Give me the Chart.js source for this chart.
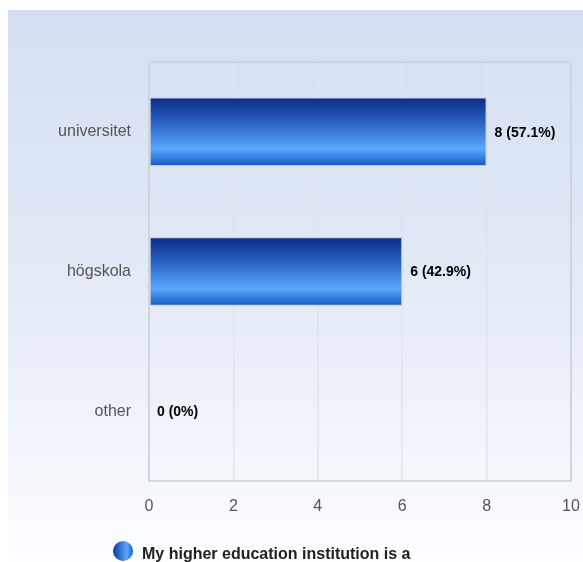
<!DOCTYPE html>
<html><head><meta charset="utf-8">
<script src="https://cdn.jsdelivr.net/npm/chart.js@4/dist/chart.umd.min.js"></script>
<style>html,body{margin:0;padding:0;background:#fff;}#wrap{width:583px;height:562px;position:relative;}</style>
</head><body><div id="wrap"><canvas id="c" width="583" height="562"></canvas></div>
<script>
const categories = ["universitet", "högskola", "other"];
const counts = [8, 6, 0];
const percents = ["57.1%", "42.9%", "0%"];
const xTicks = [0, 2, 4, 6, 8, 10];
const seriesLabel = "My higher education institution is a";

const FONT = '"Liberation Sans", Arial, sans-serif';

const bgPlugin = {
  id: 'bg',
  beforeDraw(chart) {
    const ctx = chart.ctx;
    ctx.save();
    ctx.fillStyle = '#ffffff';
    ctx.fillRect(0, 0, chart.width, chart.height);
    const g = ctx.createLinearGradient(0, 10, 0, 562);
    g.addColorStop(0, '#d3dff0');
    g.addColorStop(0.5, '#e3eaf6');
    g.addColorStop(1, '#fcfdff');
    ctx.fillStyle = g;
    ctx.fillRect(8, 10, chart.width - 8, chart.height - 10);
    ctx.restore();
  },
  afterDatasetsDraw(chart) {
    const ctx = chart.ctx;
    const a = chart.chartArea;
    ctx.save();
    ctx.strokeStyle = '#c9cfd9';
    ctx.lineWidth = 1.5;
    ctx.strokeRect(a.left, a.top, a.right - a.left, a.bottom - a.top);
    const meta = chart.getDatasetMeta(0);
    ctx.font = 'bold 14px ' + FONT;
    ctx.fillStyle = '#000';
    ctx.textBaseline = 'middle';
    ctx.textAlign = 'left';
    meta.data.forEach((bar, i) => {
      ctx.fillText(counts[i] + ' (' + percents[i] + ')', bar.x + 8, bar.y + 1);
    });
    const cx = 123, cy = 551, r = 10;
    const lg = ctx.createLinearGradient(cx - r, 0, cx + r, 0);
    lg.addColorStop(0, '#0e3a9c');
    lg.addColorStop(0.7, '#5aa6ff');
    lg.addColorStop(1, '#1a5ec6');
    ctx.beginPath();
    ctx.arc(cx, cy, r, 0, Math.PI * 2);
    ctx.fillStyle = lg;
    ctx.fill();
    ctx.font = 'bold 16px ' + FONT;
    ctx.fillStyle = '#222';
    ctx.textBaseline = 'middle';
    ctx.fillText(seriesLabel, 142, 555);
    ctx.restore();
  }
};

function barGradient(context) {
  const chart = context.chart;
  const ys = chart.scales && chart.scales.y;
  if (!ys || !ys.height) return '#2a6ad8';
  const center = ys.getPixelForValue(context.dataIndex);
  const h = ys.height / categories.length * 0.49;
  const top = center - h / 2;
  const g = chart.ctx.createLinearGradient(0, top, 0, top + h);
  g.addColorStop(0, '#0a2c88');
  g.addColorStop(0.35, '#2a5fc0');
  g.addColorStop(0.75, '#5aa8ff');
  g.addColorStop(1, '#1656c2');
  return g;
}

new Chart(document.getElementById('c'), {
  type: 'bar',
  data: {
    labels: categories,
    datasets: [{
      label: seriesLabel,
      data: counts,
      backgroundColor: barGradient,
      borderColor: '#b8c4e8',
      borderWidth: 1,
      borderSkipped: false,
      barPercentage: 0.49,
      categoryPercentage: 1
    }]
  },
  plugins: [bgPlugin],
  options: {
    indexAxis: 'y',
    responsive: false,
    animation: false,
    devicePixelRatio: 1,
    layout: { padding: { left: 0, top: 62, right: 12, bottom: 0 } },
    plugins: { legend: { display: false }, tooltip: { enabled: false } },
    scales: {
      x: {
        min: 0, max: 10,
        afterBuildTicks(s) { s.ticks = xTicks.map(v => ({ value: v })); },
        afterFit(s) { s.height = 81; s.paddingRight = 0; s.paddingLeft = 0; },
        grid: { color: '#e0e4eb', lineWidth: 1.5, drawTicks: false },
        border: { display: false },
        ticks: { padding: 16, color: '#555', font: { size: 16, family: FONT } }
      },
      y: {
        afterFit(s) { s.width = 149; s.paddingTop = 0; s.paddingBottom = 0; },
        grid: { display: false, drawTicks: false },
        border: { display: false },
        ticks: { padding: 18, color: '#555', font: { size: 16, family: FONT } }
      }
    }
  }
});
</script></body></html>
